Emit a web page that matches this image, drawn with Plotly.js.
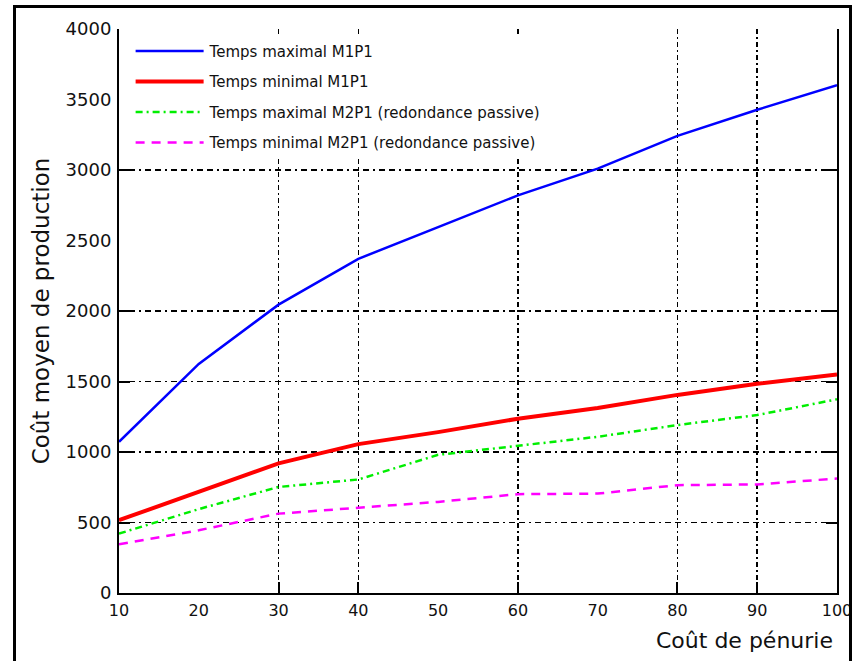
<!DOCTYPE html>
<html>
<head>
<meta charset="utf-8">
<script src="https://cdn.plot.ly/plotly-3.0.1.min.js"></script>
<style>
  html, body { margin: 0; padding: 0; background: #fff; }
  #wrap { position: relative; width: 858px; height: 661px; overflow: hidden; }
  #chart { position: absolute; left: 0; top: 0; width: 858px; height: 661px; }
  #frame { position: absolute; left: 13px; top: 5px; width: 839px; height: 720px;
           border: 3px solid #000; box-sizing: border-box; pointer-events: none; }
</style>
</head>
<body>
<div id="wrap">
  <div id="chart"></div>
  <div id="frame"></div>
</div>
<script>
// ---- data ----
const penurie = [10, 20, 30, 40, 50, 60, 70, 80, 90, 100];
const tMaxM1P1 = [1072, 1625, 2045, 2370, 2595, 2820, 3010, 3242, 3427, 3602];
const tMinM1P1 = [516, 717, 919, 1056, 1141, 1236, 1312, 1405, 1484, 1550];
const tMaxM2P1 = [421, 595, 752, 805, 980, 1042, 1108, 1191, 1262, 1374];
const tMinM2P1 = [345, 445, 563, 606, 646, 701, 705, 765, 770, 812];

const seriesNames = [
  'Temps maximal M1P1',
  'Temps minimal M1P1',
  'Temps maximal M2P1 (redondance passive)',
  'Temps minimal M2P1 (redondance passive)'
];

const xTicks = [10, 20, 30, 40, 50, 60, 70, 80, 90, 100];
const yTicks = [0, 500, 1000, 1500, 2000, 2500, 3000, 3500, 4000];
const xGrid = [30, 40, 60, 80, 90];
const yGrid = [500, 1000, 1500, 2000, 3000];

const xTitle = 'Coût de pénurie';
const yTitle = 'Coût moyen de production';

const FONT = 'DejaVu Sans, Verdana, sans-serif';

const traces = [
  { x: penurie, y: tMaxM1P1, name: seriesNames[0], legendgroup: 'a', mode: 'lines',
    line: { color: '#0000ff', width: 2.5 } },
  { x: penurie, y: tMinM1P1, name: seriesNames[1], legendgroup: 'b', mode: 'lines',
    line: { color: '#ff0000', width: 4 } },
  { x: penurie, y: tMaxM2P1, name: seriesNames[2], legendgroup: 'c', mode: 'lines',
    line: { color: '#00ee00', width: 2.5, dash: '7px,4px,2px,4px' } },
  { x: penurie, y: tMinM2P1, name: seriesNames[3], legendgroup: 'd', mode: 'lines',
    line: { color: '#ff00ff', width: 2.5, dash: '9px,7px' } },
  { x: [null], y: [null], xaxis: 'x2', yaxis: 'y2', showlegend: false, hoverinfo: 'skip',
    mode: 'lines' }
];

const layout = {
  width: 858, height: 661,
  margin: { l: 119, r: 21, t: 29, b: 68 },
  paper_bgcolor: 'rgba(0,0,0,0)',
  plot_bgcolor: '#fff',
  showlegend: true,
  font: { family: FONT, color: '#000' },
  xaxis: {
    range: [10, 100], tickvals: xTicks, ticks: '', showgrid: false, zeroline: false,
    showline: true, linecolor: '#000', linewidth: 2,
    tickfont: { family: FONT, size: 16, color: '#111' }, ticklabelstandoff: 2
  },
  yaxis: {
    range: [0, 4000], tickvals: yTicks, ticks: '', showgrid: false, zeroline: false,
    showline: true, mirror: true, linecolor: '#000', linewidth: 2,
    tickfont: { family: FONT, size: 18, color: '#111' }, ticklabelstandoff: 2,
    title: { text: yTitle, font: { family: FONT, size: 23, color: '#111' }, standoff: 10 }
  },
  xaxis2: {
    overlaying: 'x', range: [10, 100], tickvals: xGrid, showticklabels: false,
    ticks: 'inside', ticklen: 11, tickwidth: 2, tickcolor: '#000',
    showgrid: true, gridcolor: '#000', gridwidth: 1.5, griddash: '5px,3px,2px,3px',
    zeroline: false, showline: false
  },
  yaxis2: {
    overlaying: 'y', range: [0, 4000], tickvals: yGrid, showticklabels: false,
    ticks: 'inside', ticklen: 11, tickwidth: 2, tickcolor: '#000', mirror: 'ticks',
    showgrid: true, gridcolor: '#000', gridwidth: 1.5, griddash: '6px,4px,6px,4px,2px,4px',
    zeroline: false, showline: false
  },
  legend: {
    x: 0.012, y: 0.99, xanchor: 'left', yanchor: 'top',
    bgcolor: '#fff', borderwidth: 0, tracegroupgap: 8, itemwidth: 72,
    font: { family: FONT, size: 15, color: '#111' }
  },
  annotations: [{
    text: xTitle, xref: 'paper', yref: 'paper', x: 1, y: 0,
    xanchor: 'right', yanchor: 'middle', xshift: -2, yshift: -47, showarrow: false,
    font: { family: FONT, size: 22, color: '#111' }
  }]
};

Plotly.newPlot('chart', traces, layout, { displayModeBar: false, staticPlot: true })
  .then(function (gd) {
    // lengthen the legend line samples to match the reference
    gd.querySelectorAll('.legend .legendlines path').forEach(function (p) {
      p.setAttribute('d', 'M8,0h68');
    });
  });
</script>
</body>
</html>
